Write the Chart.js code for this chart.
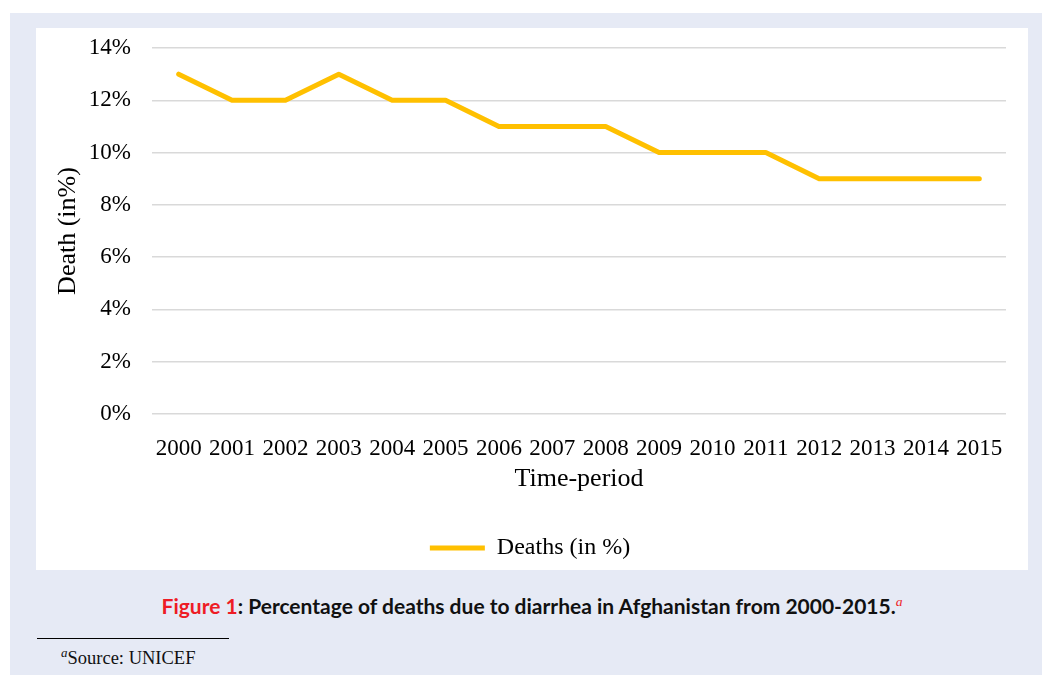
<!DOCTYPE html>
<html>
<head>
<meta charset="utf-8">
<script src="https://cdn.jsdelivr.net/npm/chart.js@4"></script>
<style>
  body { margin: 0; background: #fff; width: 1042px; height: 675px; position: relative; overflow: hidden; }
  #outer { position: absolute; left: 10px; top: 13px; width: 1032px; height: 662px; background: #e6eaf5; }
  #panel { position: absolute; left: 36px; top: 28px; width: 992px; height: 542px; background: #fff; }
  #caption { position: absolute; left: 36px; top: 594px; width: 992px; text-align: center;
             font-family: Lato, "Open Sans", sans-serif; font-weight: bold; font-size: 20px; color: #111;
             transform: scaleX(1.05); }
  #caption .fig { color: #ee1c25; }
  #caption sup, #source sup { font-family: "Liberation Serif", serif; font-style: italic; font-weight: normal; font-size: 13px; }
  #caption sup { color: #ee1c25; }
  #rule { position: absolute; left: 37px; top: 638px; width: 192px; height: 1px; background: #000; }
  #source { position: absolute; left: 61px; top: 645px; font-family: "Liberation Serif", serif; font-size: 18.5px; color: #111; }
</style>
</head>
<body>
<div id="outer"></div>
<div id="panel"><canvas id="myChart" width="992" height="542"></canvas></div>
<div id="caption"><span class="fig">Figure 1</span>: Percentage of deaths due to diarrhea in Afghanistan from 2000-2015.<sup>a</sup></div>
<div id="rule"></div>
<div id="source"><sup>a</sup>Source: UNICEF</div>
<script>
const years = ["2000", "2001", "2002", "2003", "2004", "2005", "2006", "2007",
               "2008", "2009", "2010", "2011", "2012", "2013", "2014", "2015"];
const deaths = [13, 12, 12, 13, 12, 12, 11, 11, 11, 10, 10, 10, 9, 9, 9, 9];
const yTicks = [0, 2, 4, 6, 8, 10, 12, 14];

const serif = "'Liberation Serif', 'Times New Roman', serif";
const graph = document.getElementById('myChart').getContext("2d");

// legend sits a bit right of the plot centre in the original
const legendShift = {
    id: 'legendShift',
    afterLayout(chart) {
        chart.legend.left += 18;
    }
};

let myChart = new Chart(graph, {
    type: 'line',
    data: {
        labels: years,
        datasets: [{
            label: 'Deaths (in %)',
            data: deaths,
            borderColor: '#ffc000',
            backgroundColor: '#ffc000',
            borderWidth: 5,
            borderCapStyle: 'round',
            borderJoinStyle: 'round',
            pointRadius: 0,
            tension: 0
        }]
    },
    options: {
        responsive: false,
        animation: false,
        layout: { padding: { left: 0, right: 22, top: 20, bottom: 0 } },
        plugins: {
            tooltip: { enabled: false },
            legend: {
                position: 'bottom',
                labels: {
                    color: '#000',
                    font: { family: serif, size: 24 },
                    usePointStyle: true,
                    pointStyle: 'line',
                    pointStyleWidth: 55,
                    padding: 10
                }
            }
        },
        scales: {
            x: {
                offset: true,
                grid: { display: false },
                border: { display: false },
                ticks: { color: '#000', font: { family: serif, size: 23 }, padding: 13, maxRotation: 0, autoSkip: false },
                title: { display: true, text: 'Time-period', color: '#000',
                         font: { family: serif, size: 26 }, padding: { top: 4, bottom: 31 } },
                afterFit: function (scale) { scale.height = 112; }
            },
            y: {
                min: 0,
                max: 14,
                afterBuildTicks: function (scale) { scale.ticks = yTicks.map(v => ({ value: v })); },
                grid: { color: '#d9d9d9', lineWidth: 1.5, drawTicks: false },
                border: { display: false },
                ticks: { color: '#000', font: { family: serif, size: 23 }, padding: 21,
                         callback: v => v + '%' },
                title: { display: true, text: 'Death (in%)', color: '#000',
                         font: { family: serif, size: 26 }, padding: { top: 17, bottom: 0 } },
                afterFit: function (scale) {
                    scale.width = 116;
                    scale.paddingTop = 0;
                    scale.paddingBottom = 0;
                }
            }
        }
    },
    plugins: [legendShift]
});
</script>
</body>
</html>
